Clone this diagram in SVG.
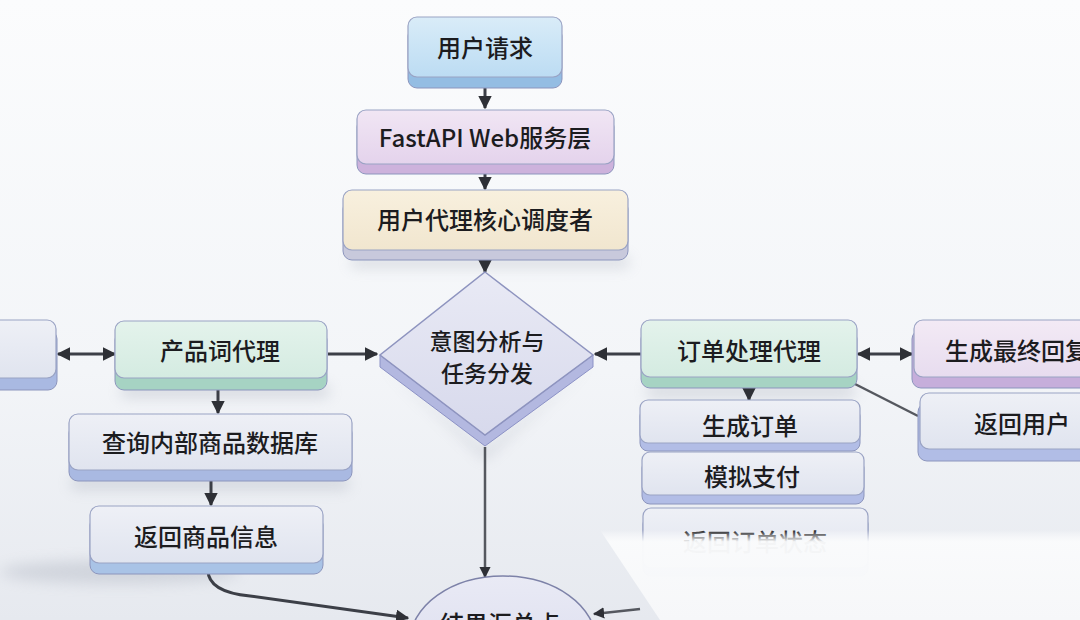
<svg xmlns="http://www.w3.org/2000/svg" width="1080" height="620" viewBox="0 0 1080 620">
<style>
.t{font-family:"Noto Sans CJK SC","Noto Sans",sans-serif;font-size:24px;font-weight:500;fill:#1c1c1f;text-anchor:middle;dominant-baseline:central}
.td{font-size:23px}
.face{stroke:#9aa3c4;stroke-width:1.2}
.slab{stroke:#8c95bd;stroke-width:1}
.ln{fill:none;stroke:#3c3f47;stroke-width:3}
.ln2{fill:none;stroke:#55585f;stroke-width:2.5}
</style>
<defs>
<linearGradient id="bg" x1="0" y1="0" x2="0" y2="1">
<stop offset="0" stop-color="#fbfcfd"/><stop offset="0.6" stop-color="#f3f5f8"/><stop offset="1" stop-color="#e6e9ef"/>
</linearGradient>
<linearGradient id="gBlue" x1="0" y1="0" x2="0" y2="1"><stop offset="0" stop-color="#d9ecf8"/><stop offset="1" stop-color="#bcdcf3"/></linearGradient>
<linearGradient id="gPurp" x1="0" y1="0" x2="0" y2="1"><stop offset="0" stop-color="#f1e6f4"/><stop offset="1" stop-color="#e4d3ec"/></linearGradient>
<linearGradient id="gBeige" x1="0" y1="0" x2="0" y2="1"><stop offset="0" stop-color="#f8f0de"/><stop offset="1" stop-color="#f1e6cf"/></linearGradient>
<linearGradient id="gMint" x1="0" y1="0" x2="0" y2="1"><stop offset="0" stop-color="#e4f3ec"/><stop offset="1" stop-color="#d4ebe1"/></linearGradient>
<linearGradient id="gPink" x1="0" y1="0" x2="0" y2="1"><stop offset="0" stop-color="#f3eaf5"/><stop offset="1" stop-color="#e7dcef"/></linearGradient>
<linearGradient id="gGray" x1="0" y1="0" x2="0" y2="1"><stop offset="0" stop-color="#eef0f6"/><stop offset="1" stop-color="#e0e4ef"/></linearGradient>
<linearGradient id="gDia" x1="0" y1="0" x2="0" y2="1"><stop offset="0" stop-color="#e9eaf5"/><stop offset="1" stop-color="#d7d9ec"/></linearGradient>
<linearGradient id="fade" x1="0" y1="0" x2="0" y2="1"><stop offset="0" stop-color="#ffffff" stop-opacity="0"/><stop offset="0.13" stop-color="#fafbfc" stop-opacity="0.97"/><stop offset="1" stop-color="#f6f7f9" stop-opacity="1"/></linearGradient>
<filter id="sh" x="-20%" y="-50%" width="140%" height="200%"><feGaussianBlur stdDeviation="7"/></filter>
<marker id="ah" viewBox="0 0 10 10" refX="9" refY="5" markerWidth="4.5" markerHeight="4.5" orient="auto-start-reverse"><path d="M0,0L10,5L0,10z" fill="#2e3036"/></marker>
</defs>
<rect width="1080" height="620" fill="url(#bg)"/>
<g id="shadows" fill="#9aa0ae" opacity="0.3" filter="url(#sh)">
<ellipse cx="120" cy="572" rx="120" ry="12"/>
<rect x="120" y="384" width="210" height="14" rx="7"/>
<rect x="70" y="476" width="280" height="14" rx="7"/>
<rect x="646" y="384" width="210" height="14" rx="7"/>
<rect x="350" y="256" width="280" height="12" rx="6"/>
<polygon points="380,362 485,450 593,362 485,460"/>
</g>
<g id="connectors">
<line class="ln" x1="485" y1="86" x2="485" y2="108" marker-end="url(#ah)"/>
<line class="ln" x1="485" y1="172" x2="485" y2="189" marker-end="url(#ah)"/>
<line class="ln" x1="485" y1="259" x2="485" y2="272" marker-end="url(#ah)"/>
<line class="ln" x1="58" y1="354" x2="115" y2="354" marker-start="url(#ah)" marker-end="url(#ah)"/>
<line class="ln" x1="328" y1="354" x2="377" y2="354" marker-end="url(#ah)"/>
<line class="ln" x1="641" y1="354" x2="595" y2="354" marker-end="url(#ah)"/>
<line class="ln" x1="858" y1="354" x2="912" y2="354" marker-start="url(#ah)" marker-end="url(#ah)"/>
<line class="ln2" x1="853" y1="383" x2="918" y2="416"/>
<line class="ln" x1="749" y1="386" x2="749" y2="400" marker-end="url(#ah)"/>
<line class="ln" x1="218" y1="389" x2="218" y2="413" marker-end="url(#ah)"/>
<line class="ln" x1="211" y1="479" x2="211" y2="505" marker-end="url(#ah)"/>
<line class="ln2" x1="485" y1="447" x2="485" y2="577" marker-end="url(#ah)"/>
<path class="ln" d="M208,570 Q208,592 250,596 L408,618" marker-end="url(#ah)"/>
<line class="ln2" x1="640" y1="609" x2="594" y2="614" marker-end="url(#ah)"/>
</g>
<g id="n_user_request">
<rect class="slab" x="408" y="27" width="154" height="61" rx="9" fill="#94bde3"/>
<rect class="face" x="408" y="17" width="154" height="60" rx="9" fill="url(#gBlue)"/>
<text class="t" x="485" y="46">用户请求</text>
</g>
<g id="n_fastapi">
<rect class="slab" x="357" y="118" width="257" height="56" rx="9" fill="#cdb2dc"/>
<rect class="face" x="357" y="110" width="257" height="54" rx="9" fill="url(#gPurp)"/>
<text class="t" x="485" y="136">FastAPI Web服务层</text>
</g>
<g id="n_dispatcher">
<rect class="slab" x="343" y="200" width="285" height="60" rx="9" fill="#c8c9dc"/>
<rect class="face" x="343" y="190" width="285" height="60" rx="9" fill="url(#gBeige)"/>
<text class="t" x="485" y="218">用户代理核心调度者</text>
</g>
<g id="n_intent">
<polygon points="380,355 485,435 593,355 593,367 485,446 380,367" fill="#b3b8e0" stroke="#8c92c6" stroke-width="1"/>
<polygon points="485,272 593,355 485,435 380,355" fill="url(#gDia)" stroke="#8e94bf" stroke-width="1.5"/>
<text class="t td" x="487" y="340">意图分析与</text>
<text class="t td" x="487" y="372">任务分发</text>
</g>
<g id="n_left_partial">
<rect class="slab" x="-20" y="330" width="77" height="60" rx="9" fill="#a9b9e2"/>
<rect class="face" x="-20" y="320" width="76" height="58" rx="9" fill="url(#gGray)"/>
</g>
<g id="n_product_agent">
<rect class="slab" x="115" y="331" width="212" height="59" rx="9" fill="#a6d3c3"/>
<rect class="face" x="115" y="321" width="212" height="57" rx="9" fill="url(#gMint)"/>
<text class="t" x="220" y="349">产品词代理</text>
</g>
<g id="n_order_agent">
<rect class="slab" x="641" y="330" width="216" height="58" rx="9" fill="#a6d3c3"/>
<rect class="face" x="641" y="320" width="216" height="57" rx="9" fill="url(#gMint)"/>
<text class="t" x="749" y="349">订单处理代理</text>
</g>
<g id="n_final_reply">
<rect class="slab" x="912" y="330" width="190" height="58" rx="9" fill="#c6aedb"/>
<rect class="face" x="914" y="320" width="190" height="57" rx="9" fill="url(#gPink)"/>
<text class="t" x="1017" y="349">生成最终回复</text>
</g>
<g id="n_return_user">
<rect class="slab" x="918" y="403" width="180" height="58" rx="9" fill="#b1bde6"/>
<rect class="face" x="920" y="393" width="180" height="56" rx="9" fill="url(#gGray)"/>
<text class="t" x="1022" y="422">返回用户</text>
</g>
<g id="n_create_order">
<rect class="slab" x="640" y="408" width="220" height="43" rx="8" fill="#b2bde6"/>
<rect class="face" x="640" y="400" width="220" height="43" rx="8" fill="url(#gGray)"/>
<text class="t" x="750" y="424">生成订单</text>
</g>
<g id="n_pay">
<rect class="slab" x="642" y="460" width="222" height="44" rx="8" fill="#b2bde6"/>
<rect class="face" x="642" y="452" width="222" height="43" rx="8" fill="url(#gGray)"/>
<text class="t" x="752" y="475">模拟支付</text>
</g>
<g id="n_order_status">
<rect class="slab" x="643" y="516" width="225" height="60" rx="8" fill="#b2bde6"/>
<rect class="face" x="643" y="508" width="225" height="60" rx="8" fill="url(#gGray)"/>
<text class="t" x="755" y="540">返回订单状态</text>
</g>
<g id="n_query_db">
<rect class="slab" x="69" y="424" width="283" height="57" rx="9" fill="#a9b9e2"/>
<rect class="face" x="69" y="414" width="283" height="56" rx="9" fill="url(#gGray)"/>
<text class="t" x="210" y="441">查询内部商品数据库</text>
</g>
<g id="n_return_product">
<rect class="slab" x="90" y="516" width="233" height="58" rx="9" fill="#a9c3e6"/>
<rect class="face" x="90" y="506" width="233" height="57" rx="9" fill="url(#gGray)"/>
<text class="t" x="206" y="535">返回商品信息</text>
</g>
<g id="n_summary">
<ellipse cx="503" cy="642" rx="93" ry="66" fill="url(#gDia)" stroke="#7d82a8" stroke-width="1.5"/>
<text class="t" x="500" y="622">结果汇总点</text>
</g>
<polygon points="600,530 1080,530 1080,620 660,620" fill="url(#fade)"/>
</svg>
